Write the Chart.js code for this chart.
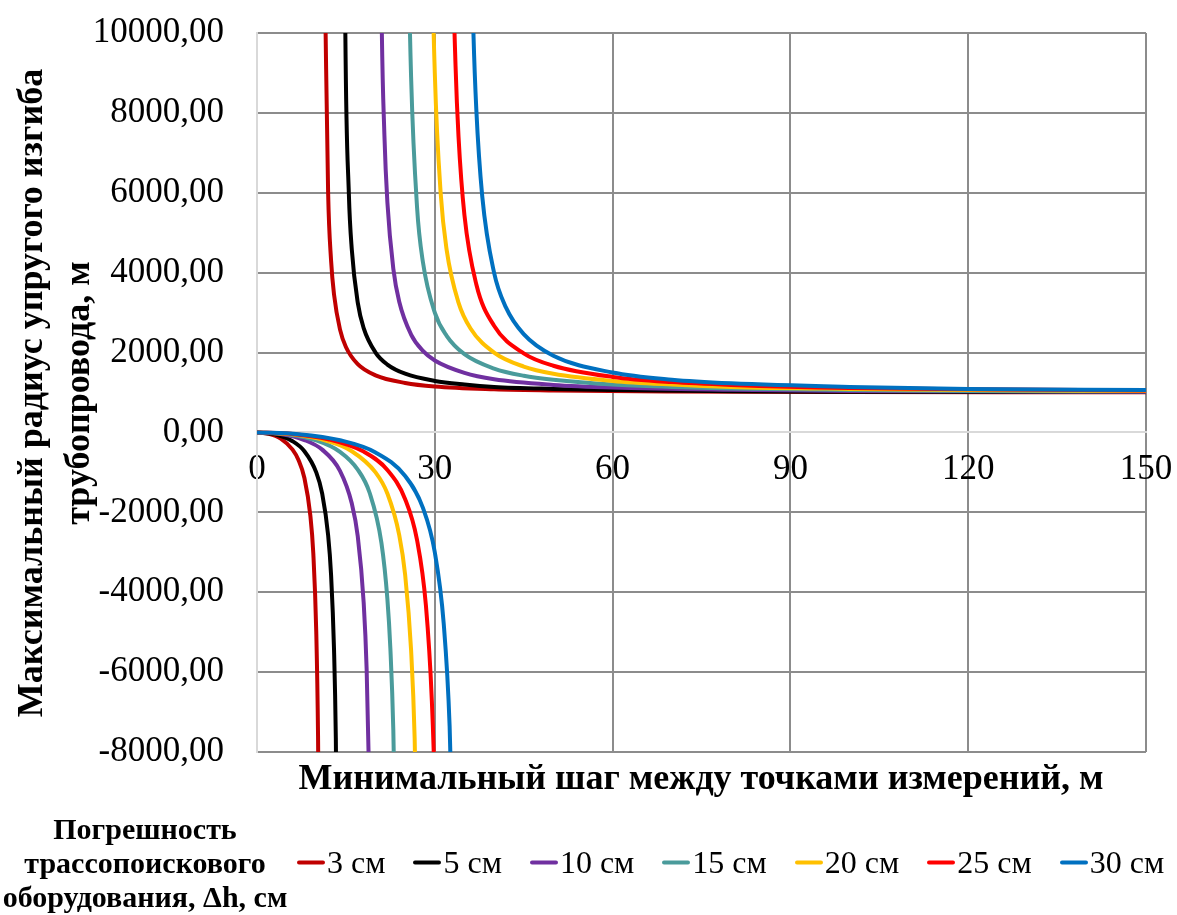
<!DOCTYPE html>
<html lang="ru">
<head>
    <meta charset="UTF-8" />
    <title>Максимальный радиус упругого изгиба</title>
    <style>
        body {
            margin: 0;
            background: #fff;
            font-family: 'Liberation Serif', 'Times New Roman', serif;
            color: #000;
        }
        .wrap {
            position: relative;
            width: 1177px;
            height: 915px;
            overflow: hidden;
        }
        canvas {
            position: absolute;
            left: 0;
            top: 0;
        }
        .ytitle {
            position: absolute;
            left: 54px;
            top: 393px;
            width: 720px;
            transform: translate(-50%, -50%) rotate(-90deg);
            text-align: center;
            font-weight: bold;
            font-size: 36px;
            line-height: 47px;
            white-space: nowrap;
        }
        .xtitle {
            position: absolute;
            left: 701px;
            top: 777px;
            transform: translate(-50%, -50%);
            white-space: nowrap;
            font-weight: bold;
            font-size: 36px;
        }
        .legend-title {
            position: absolute;
            left: -5px;
            top: 812px;
            width: 300px;
            text-align: center;
            font-weight: bold;
            font-size: 30px;
            line-height: 34px;
            white-space: nowrap;
        }
        .legend {
            position: absolute;
            left: 297px;
            top: 862px;
            transform: translateY(-50%);
            display: flex;
            align-items: center;
            gap: 28px;
            white-space: nowrap;
            font-size: 32px;
        }
        .item {
            display: flex;
            align-items: center;
        }
        .swatch {
            width: 28px;
            height: 4px;
            border-radius: 2px;
            margin-right: 2px;
        }
    </style>
</head>
<body>
    <div class="wrap">
        <canvas id="chart" width="1177" height="915"></canvas>
        <div class="ytitle">Максимальный радиус упругого изгиба<br>трубопровода, м</div>
        <div class="xtitle">Минимальный шаг между точками измерений, м</div>
        <div class="legend-title">Погрешность<br>трассопоискового<br>оборудования, Δh, см</div>
        <div class="legend" id="legend"></div>
    </div>

    <script src="https://cdn.jsdelivr.net/npm/chart.js"></script>
    <script>
        // подписи серий и цвета
        const seriesNames = ['3 см', '5 см', '10 см', '15 см', '20 см', '25 см', '30 см'];
        const seriesColors = ['#C00000', '#000000', '#7030A0', '#4A9B9B', '#FFC000', '#FF0000', '#0070C0'];

        // шаг L, м (null в радиусе — разрыв у асимптоты)
        const L3  = [0, 2, 4, 6, 7, 8, 9, 9.5, 10, 10.3, 10.5, 11, 11.5, 12, 12.5, 13, 14, 15, 17, 20, 25, 30, 40, 50, 70, 100, 150];
        const R3  = [0, -35, -155, -430, -690, -1140, -2080, -3030, -5000, -7600, -11300, null, 10800, 6000, 4300, 3450, 2580, 2140, 1710, 1430, 1240, 1150, 1080, 1050, 1025, 1012, 1005];

        const L5  = [0, 3, 6, 8, 10, 11, 12, 12.5, 13, 13.3, 13.6, 14.1, 14.5, 14.9, 15.5, 16, 17, 18, 20, 22, 25, 30, 35, 40, 50, 60, 80, 100, 150];
        const R5  = [0, -47, -220, -470, -1000, -1530, -2570, -3570, -5450, -7650, -12300, null, 20500, 10100, 5970, 4570, 3250, 2610, 2000, 1700, 1470, 1290, 1200, 1140, 1090, 1060, 1030, 1020, 1010];

        const L10 = [0, 4, 8, 11, 14, 16, 17, 18, 18.5, 19, 20, 20.5, 21, 21.5, 22, 23, 24, 26, 28, 30, 35, 40, 50, 60, 80, 100, 120, 150];
        const R10 = [0, -42, -190, -430, -960, -1780, -2600, -4260, -5930, -9260, null, 20750, 10760, 7430, 5760, 4100, 3270, 2450, 2040, 1800, 1490, 1330, 1190, 1125, 1070, 1040, 1030, 1020];

        const L15 = [0, 5, 10, 14, 17, 19, 21, 22, 22.5, 23, 23.5, 24.5, 25.2, 25.6, 26, 27, 28, 30, 32, 35, 40, 45, 50, 60, 70, 80, 100, 120, 150];
        const R15 = [0, -43, -200, -485, -930, -1510, -2770, -4170, -5400, -7450, -11570, null, 18100, 11800, 8900, 5650, 4260, 3000, 2420, 1960, 1600, 1420, 1320, 1200, 1140, 1100, 1060, 1040, 1030];

        const L20 = [0, 6, 12, 16, 20, 22, 24, 25, 26, 26.6, 27.2, 28.3, 29, 29.5, 30, 31, 32, 34, 36, 40, 45, 50, 60, 70, 80, 100, 120, 150];
        const R20 = [0, -47, -220, -470, -1000, -1530, -2570, -3570, -5450, -7650, -12300, null, 20500, 12400, 9000, 5970, 4570, 3250, 2610, 2000, 1650, 1470, 1290, 1200, 1140, 1090, 1060, 1040];

        const L25 = [0, 6, 12, 18, 22, 25, 27, 28.5, 29.5, 30, 30.5, 31.6, 32.5, 33, 33.5, 34, 35, 37, 40, 45, 50, 60, 70, 80, 100, 120, 150];
        const R25 = [0, -37, -170, -480, -940, -1670, -2690, -4330, -6710, -9000, -13300, null, 18800, 12200, 9180, 7410, 5440, 3710, 2670, 1980, 1670, 1390, 1260, 1190, 1110, 1080, 1050];

        const L30 = [0, 7, 14, 20, 25, 28, 30, 31.5, 32.5, 33.2, 34.6, 35.5, 36, 36.5, 37, 38, 40, 42, 45, 50, 60, 70, 80, 100, 120, 150];
        const R30 = [0, -43, -195, -500, -1090, -1890, -3000, -4780, -7350, -11300, null, 20900, 13500, 10100, 8100, 5920, 4000, 3130, 2460, 1920, 1500, 1320, 1230, 1140, 1090, 1060];

        const allL = [L3, L5, L10, L15, L20, L25, L30];
        const allR = [R3, R5, R10, R15, R20, R25, R30];

        const datasets = seriesNames.map((name, i) => ({
            label: name,
            data: allL[i].map((x, k) => ({ x: x, y: allR[i][k] })),
            borderColor: seriesColors[i],
            backgroundColor: seriesColors[i],
            borderWidth: 4,
            pointRadius: 0,
            fill: false,
            spanGaps: false,
            cubicInterpolationMode: 'monotone',
            order: seriesNames.length - 1 - i
        }));

        const lightGrid = '#D9D9D9';
        const darkGrid = '#8C8C8C';

        new Chart(document.getElementById('chart'), {
            type: 'line',
            data: { datasets: datasets },
            options: {
                responsive: false,
                animation: false,
                layout: { padding: { left: 0, right: 31, top: 33, bottom: 163 } },
                plugins: {
                    legend: { display: false },
                    tooltip: { enabled: false }
                },
                scales: {
                    x: {
                        type: 'linear',
                        position: { y: 0 },
                        min: 0,
                        max: 150,
                        afterFit: scale => { scale.paddingLeft = 0; scale.paddingRight = 0; },
                        ticks: {
                            stepSize: 30,
                            padding: 16,
                            color: '#000',
                            font: { family: 'Liberation Serif', size: 35 }
                        },
                        grid: {
                            drawTicks: false,
                            lineWidth: 2,
                            color: ctx => ctx.tick && ctx.tick.value === 0 ? lightGrid : darkGrid
                        },
                        border: { color: lightGrid, width: 2 }
                    },
                    y: {
                        type: 'linear',
                        min: -8000,
                        max: 10000,
                        afterFit: scale => {
                            scale.width = 257;
                            scale.paddingTop = 0;
                            scale.paddingBottom = 0;
                        },
                        ticks: {
                            stepSize: 2000,
                            padding: 33,
                            color: '#000',
                            font: { family: 'Liberation Serif', size: 35 },
                            callback: v => v.toFixed(2).replace('.', ',')
                        },
                        grid: {
                            drawTicks: false,
                            lineWidth: 2,
                            color: ctx => ctx.tick && ctx.tick.value === 0 ? lightGrid : darkGrid
                        },
                        border: { color: lightGrid, width: 2 }
                    }
                }
            }
        });

        // легенда
        const legend = document.getElementById('legend');
        seriesNames.forEach((name, i) => {
            const item = document.createElement('div');
            item.className = 'item';
            item.innerHTML = `<span class="swatch" style="background:${seriesColors[i]}"></span><span>${name}</span>`;
            legend.appendChild(item);
        });
    </script>
</body>
</html>
